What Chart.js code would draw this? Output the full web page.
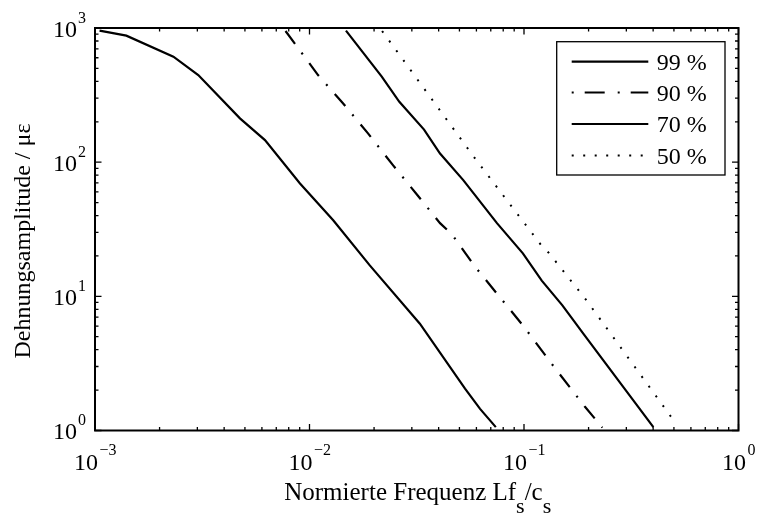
<!DOCTYPE html>
<html>
<head>
<meta charset="utf-8">
<script src="https://cdn.jsdelivr.net/npm/chart.js@4.4.1/dist/chart.umd.min.js"></script>
<style>
  html, body { margin: 0; padding: 0; background: #fff; }
  #wrap { width: 758px; height: 514px; }
</style>
</head>
<body>
<div id="wrap"><canvas id="c" width="758" height="514"></canvas></div>
<script>
// Strain amplitude vs. normalised frequency for four probability levels
const seriesLabels = ['99 %', '90 %', '70 %', '50 %'];

const freq99 = [0.00105, 0.00140, 0.00232, 0.00303, 0.00474, 0.00620, 0.00903, 0.0129, 0.0191, 0.0327, 0.0531, 0.0624, 0.0739];
const amp99  = [955, 877, 611, 446, 212, 146, 69.3, 36.9, 17.0, 6.25, 2.05, 1.45, 1.06];

const freq90 = [0.00773, 0.01096, 0.01432, 0.01874, 0.02449, 0.0316, 0.0406, 0.0461, 0.0585, 0.0758, 0.0988, 0.1365, 0.192, 0.232];
const amp90  = [950, 446, 275, 164, 95, 57.7, 35.1, 29.0, 17.0, 10.2, 6.08, 3.05, 1.51, 1.05];

const freq70 = [0.01479, 0.02172, 0.02623, 0.0342, 0.0406, 0.0521, 0.0748, 0.0988, 0.121, 0.151, 0.189, 0.401];
const amp70  = [955, 434, 282, 175, 116, 73.5, 35.1, 20.9, 13.1, 8.57, 5.27, 1.06];

const freq50 = [0.0218, 0.0591, 0.1197, 0.1308, 0.1945, 0.484];
const amp50  = [950, 106.6, 24.3, 21.0, 9.44, 1.27];

// decade exponents used for the tick labels
const xTickExponents = [-3, -2, -1, 0];
const yTickExponents = [0, 1, 2, 3];

const xTitleParts = [['Normierte Frequenz Lf', false], ['s', true], ['/c', false], ['s', true]];
const yTitle = 'Dehnungsamplitude / \u03BC\u03B5';

const FONT = '"Liberation Serif", "Times New Roman", serif';

function pts(xs, ys) { return xs.map((v, i) => ({ x: v, y: ys[i] })); }

function supText(e) { return e < 0 ? '\u2212' + Math.abs(e) : String(e); }

const framePlugin = {
  id: 'matlabFrame',
  afterDatasetsDraw(chart) {
    const { ctx, chartArea: a, scales } = chart;
    const xs = scales.x, ys = scales.y;
    ctx.save();
    ctx.fillStyle = '#000';
    ctx.strokeStyle = '#000';

    // inward tick marks on all four sides
    ctx.lineWidth = 1.3;
    const major = 6.5, minor = 3.5;
    function xTick(v, len) {
      const p = xs.getPixelForValue(v);
      ctx.beginPath();
      ctx.moveTo(p, a.bottom); ctx.lineTo(p, a.bottom - len);
      ctx.moveTo(p, a.top); ctx.lineTo(p, a.top + len);
      ctx.stroke();
    }
    function yTick(v, len) {
      const p = ys.getPixelForValue(v);
      ctx.beginPath();
      ctx.moveTo(a.left, p); ctx.lineTo(a.left + len, p);
      ctx.moveTo(a.right, p); ctx.lineTo(a.right - len, p);
      ctx.stroke();
    }
    xTickExponents.forEach((e, i) => {
      xTick(Math.pow(10, e), major);
      if (i < xTickExponents.length - 1) for (let m = 2; m <= 9; m++) xTick(m * Math.pow(10, e), minor);
    });
    yTickExponents.forEach((e, i) => {
      yTick(Math.pow(10, e), major);
      if (i < yTickExponents.length - 1) for (let m = 2; m <= 9; m++) yTick(m * Math.pow(10, e), minor);
    });

    // axes box
    ctx.lineWidth = 2;
    ctx.strokeRect(a.left, a.top, a.right - a.left, a.bottom - a.top);

    // tick labels 10^n
    const baseFont = '24px ' + FONT, supFont = '16px ' + FONT;
    ctx.textBaseline = 'alphabetic';
    ctx.textAlign = 'left';
    xTickExponents.forEach(e => {
      const p = xs.getPixelForValue(Math.pow(10, e));
      ctx.font = baseFont; const wb = ctx.measureText('10').width;
      ctx.font = supFont; const sp = supText(e); const ws = ctx.measureText(sp).width;
      const start = p - (wb + 1 + ws) / 2;
      ctx.font = baseFont; ctx.fillText('10', start, a.bottom + 39.5);
      ctx.font = supFont; ctx.fillText(sp, start + wb + 1.5, a.bottom + 24.5);
    });
    yTickExponents.forEach(e => {
      const p = ys.getPixelForValue(Math.pow(10, e));
      ctx.font = baseFont; ctx.textAlign = 'right';
      ctx.fillText('10', a.left - 18, p + 8.5);
      ctx.font = supFont; ctx.textAlign = 'left';
      ctx.fillText(supText(e), a.left - 17, p - 5.5);
    });

    // x axis title with subscripts
    const mainF = '25px ' + FONT, subF = '22px ' + FONT;
    let total = 0;
    xTitleParts.forEach(([t, sub]) => { ctx.font = sub ? subF : mainF; total += ctx.measureText(t).width; });
    let cx = (a.left + a.right) / 2 + 1 - total / 2;
    ctx.textAlign = 'left';
    xTitleParts.forEach(([t, sub]) => {
      ctx.font = sub ? subF : mainF;
      ctx.fillText(t, cx, sub ? 513 : 500);
      cx += ctx.measureText(t).width;
    });

    // y axis title
    ctx.save();
    ctx.translate(30, 241);
    ctx.rotate(-Math.PI / 2);
    ctx.font = '24px ' + FONT;
    ctx.textAlign = 'center';
    ctx.fillText(yTitle, 0, 0);
    ctx.restore();

    // legend
    const lx = 556.7, ly = 41.7, lw = 168.3, lh = 133.3;
    ctx.fillStyle = '#fff';
    ctx.fillRect(lx, ly, lw, lh);
    ctx.lineWidth = 1.3;
    ctx.strokeStyle = '#000';
    ctx.strokeRect(lx, ly, lw, lh);
    const rows = [61.7, 92.5, 124, 155.5];
    chart.data.datasets.forEach((ds, i) => {
      const ry = rows[i];
      ctx.save();
      ctx.lineWidth = ds.borderWidth;
      ctx.lineCap = 'butt';
      ctx.setLineDash(ds.legendDash || ds.borderDash || []);
      ctx.beginPath();
      ctx.moveTo(571.7, ry); ctx.lineTo(648.3, ry);
      ctx.stroke();
      ctx.restore();
      ctx.fillStyle = '#000';
      ctx.font = '24px ' + FONT;
      ctx.textAlign = 'left';
      ctx.fillText(ds.label, 656.7, ry + 8.3);
    });

    ctx.restore();
  }
};

const common = { borderColor: '#000', backgroundColor: '#000', pointRadius: 0, tension: 0, fill: false, borderCapStyle: 'butt' };

new Chart(document.getElementById('c'), {
  type: 'line',
  data: {
    datasets: [
      Object.assign({ label: seriesLabels[0], data: pts(freq99, amp99), borderWidth: 2.2, borderDash: [] }, common),
      Object.assign({ label: seriesLabels[1], data: pts(freq90, amp90), borderWidth: 2.2, borderDash: [16, 11, 2, 11], legendDash: [2, 11, 20, 13] }, common),
      Object.assign({ label: seriesLabels[2], data: pts(freq70, amp70), borderWidth: 2.2, borderDash: [] }, common),
      Object.assign({ label: seriesLabels[3], data: pts(freq50, amp50), borderWidth: 2, borderDash: [2, 10], legendDash: [2, 9.5] }, common)
    ]
  },
  options: {
    responsive: false,
    animation: false,
    devicePixelRatio: 1,
    layout: { padding: { top: 28, right: 19.5, bottom: 0, left: 0 } },
    plugins: { legend: { display: false }, tooltip: { enabled: false } },
    scales: {
      x: {
        type: 'logarithmic', min: 1e-3, max: 1,
        ticks: { display: false }, grid: { display: false }, border: { display: false },
        afterFit(s) { s.height = 83.5; }
      },
      y: {
        type: 'logarithmic', min: 1, max: 1000,
        ticks: { display: false }, grid: { display: false }, border: { display: false },
        afterFit(s) { s.width = 95; }
      }
    }
  },
  plugins: [framePlugin]
});
</script>
</body>
</html>
